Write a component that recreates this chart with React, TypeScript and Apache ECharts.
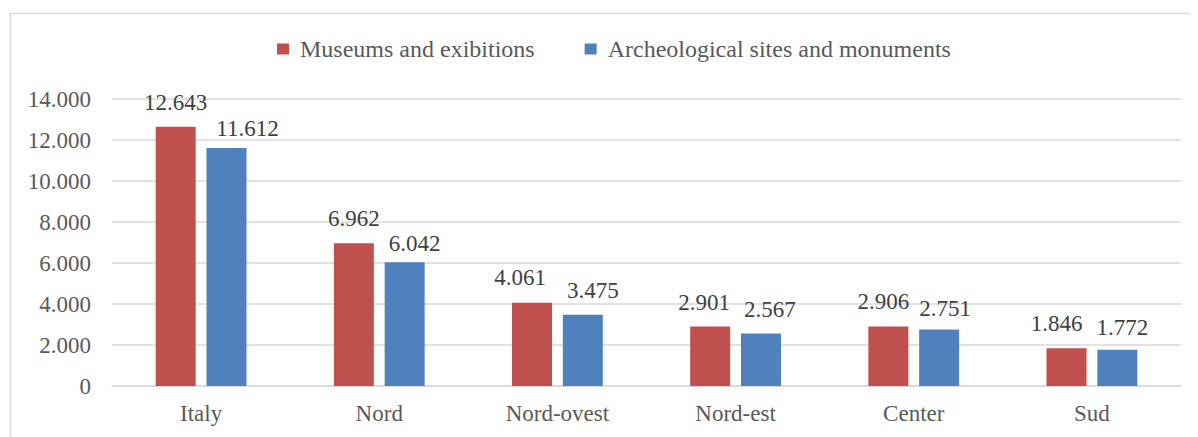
import React, { useEffect, useRef } from "react";
import * as echarts from "echarts";

const categories = ["Italy", "Nord", "Nord-ovest", "Nord-est", "Center", "Sud"];
const museums = [12643, 6962, 4061, 2901, 2906, 1846];
const archeological = [11612, 6042, 3475, 2567, 2751, 1772];
const seriesNames = ["Museums and exibitions", "Archeological sites and monuments"];

// manual label nudges (as placed in the original chart)
const museumsLabelShift = [[0, 0], [0, 0], [-12, -1], [-6, 0], [-5, 0], [-10, 0]];
const archeoLabelShift = [[21, 5], [10, 6], [10, 0], [9, 1], [6, 3], [5, 2]];

const fmt = (v: number) => {
  const s = Math.round(v).toString();
  return s.replace(/\B(?=(\d{3})+(?!\d))/g, ".");
};

const FONT = "Liberation Serif";

export default function App() {
  const ref = useRef<HTMLDivElement>(null);
  useEffect(() => {
    if (!ref.current) return;
    const chart = echarts.init(ref.current, null, { renderer: "svg" });
    const labelStyle = {
      show: true,
      position: "top",
      distance: 13,
      fontFamily: FONT,
      fontSize: 23,
      color: "#404040",
      formatter: (p: any) => fmt(p.value),
    };
    const withShift = (vals: number[], shifts: number[][]) =>
      vals.map((v, i) => ({ value: v, label: { offset: shifts[i] } }));
    chart.setOption({
      animation: false,
      textStyle: { fontFamily: FONT },
      graphic: [
        {
          type: "rect",
          left: 8,
          top: 11,
          shape: { width: 1250, height: 500 },
          style: { fill: "none", stroke: "#d9d9d9", lineWidth: 1.5 },
          silent: true,
          z: -10,
        },
      ],
      legend: {
        top: 32,
        left: 272,
        itemWidth: 12,
        itemHeight: 11,
        itemGap: 50,
        icon: "rect",
        textStyle: {
          fontFamily: FONT,
          fontSize: 24,
          color: "#595959",
          padding: [0, 0, 0, 6],
        },
        data: seriesNames,
      },
      grid: { left: 112, right: 17, top: 99, bottom: 51 },
      xAxis: {
        type: "category",
        data: categories,
        axisLine: { show: true, lineStyle: { color: "#d9d9d9", width: 1.5 } },
        axisTick: { show: false },
        axisLabel: { fontFamily: FONT, fontSize: 23, color: "#595959", margin: 16 },
      },
      yAxis: {
        type: "value",
        min: 0,
        max: 14000,
        interval: 2000,
        axisLine: { show: false },
        axisTick: { show: false },
        splitLine: { lineStyle: { color: "#d9d9d9", width: 1.5 } },
        axisLabel: {
          fontFamily: FONT,
          fontSize: 23,
          color: "#595959",
          margin: 21,
          formatter: (v: number) => fmt(v),
        },
      },
      series: [
        {
          name: seriesNames[0],
          type: "bar",
          data: withShift(museums, museumsLabelShift),
          barWidth: 40,
          barGap: "27%",
          itemStyle: { color: "#C0504D" },
          label: labelStyle,
        },
        {
          name: seriesNames[1],
          type: "bar",
          data: withShift(archeological, archeoLabelShift),
          barWidth: 40,
          barGap: "27%",
          itemStyle: { color: "#4F81BD" },
          label: labelStyle,
        },
      ],
    });
    return () => chart.dispose();
  }, []);
  return (
    <div
      ref={ref}
      style={{ width: 1198, height: 437, margin: "-8px 0 0 -8px" }}
    />
  );
}
